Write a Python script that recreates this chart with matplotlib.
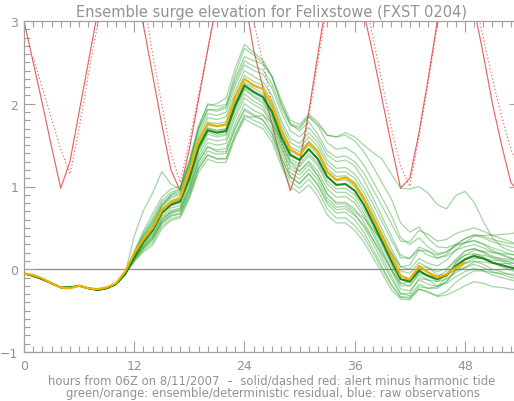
import numpy as np
import matplotlib
matplotlib.use("Agg")
import matplotlib.pyplot as plt
from matplotlib.ticker import MultipleLocator

# ---------------------------------------------------------------- data
# hours from 06Z on 8/11/2007
tide_alert = [3.00, 2.50, 2.00, 1.48, 0.98, 1.30, 1.90, 2.50, 3.10, 3.60,
              3.90, 3.80, 3.50, 2.95, 2.35, 1.75, 1.20, 0.95, 1.45, 2.05,
              2.65, 3.25, 3.60, 3.70, 3.30, 2.65, 2.20, 1.75, 1.32, 0.95,
              1.30, 1.90, 2.60, 3.30, 3.70, 3.80, 3.60, 3.10, 2.60, 2.05,
              1.50, 0.98, 1.10, 1.65, 2.30, 3.00, 3.50, 3.80, 3.60, 3.15,
              2.60, 2.00, 1.50, 1.05, 0.92]                      # hours 0..54
tide_alert_dashed = [2.56, 2.19, 1.82, 1.45, 1.15, 1.70, 2.35, 2.95, 3.50,
                     3.85, 3.90, 3.70, 3.30, 2.60, 2.00, 1.40, 1.05, 1.55,
                     2.10, 2.65, 3.20, 3.60, 3.80, 3.60, 3.00, 2.50, 2.00,
                     1.55, 1.10, 1.25, 1.85, 2.50, 3.20, 3.65, 3.85, 3.80,
                     3.30, 2.80, 2.25, 1.70, 1.25, 1.00, 1.60, 2.25, 2.95,
                     3.50, 3.85, 3.80, 3.30, 2.80, 2.30, 1.85, 1.45, 1.20]  # hours 1..54

# deterministic residual, hours 0..48
deterministic = [-0.05, -0.07, -0.11, -0.17, -0.22, -0.23, -0.20, -0.23, -0.24,
                 -0.22, -0.17, -0.03, 0.19, 0.36, 0.50, 0.71, 0.81, 0.86, 1.18,
                 1.55, 1.76, 1.73, 1.75, 2.08, 2.30, 2.22, 2.18, 1.98, 1.68,
                 1.45, 1.38, 1.53, 1.42, 1.18, 1.08, 1.11, 1.03, 0.85, 0.63,
                 0.40, 0.16, -0.08, -0.12, 0.04, -0.04, -0.10, -0.06, 0.02, 0.08]

# ensemble residuals: common spin-up (hours 0..11) then each member (hours 12..54)
spinup = [-0.05, -0.08, -0.12, -0.17, -0.22, -0.22, -0.20, -0.23, -0.25, -0.23,
          -0.18, -0.06]

ensemble_mean = [0.15, 0.33, 0.47, 0.68, 0.78, 0.82, 1.10, 1.47, 1.68, 1.65, 1.67,
                 1.98, 2.22, 2.14, 2.08, 1.90, 1.60, 1.38, 1.32, 1.45, 1.33, 1.12,
                 1.02, 1.03, 0.95, 0.78, 0.56, 0.33, 0.10, -0.12, -0.15, -0.02,
                 -0.08, -0.12, -0.07, 0.04, 0.12, 0.16, 0.13, 0.08, 0.05, 0.02, 0.00]

members = [
    [0.40, 0.71, 0.92, 1.18, 1.03, 0.97, 1.28, 1.72, 2.00, 1.97, 1.99, 2.36, 2.67, 2.59, 2.50, 2.32, 2.00, 1.76, 1.72, 1.85, 1.75, 1.62, 1.60, 1.65, 1.60, 1.50, 1.41, 1.33, 1.15, 0.98, 0.97, 1.00, 0.92, 0.78, 0.73, 0.89, 0.94, 0.81, 0.58, 0.38, 0.27, 0.22, 0.20],
    [0.22, 0.46, 0.67, 0.87, 0.97, 1.00, 1.32, 1.73, 1.98, 2.00, 2.07, 2.43, 2.72, 2.62, 2.53, 2.33, 2.00, 1.76, 1.67, 1.78, 1.63, 1.43, 1.35, 1.37, 1.30, 1.16, 0.96, 0.76, 0.55, 0.34, 0.33, 0.47, 0.42, 0.34, 0.36, 0.43, 0.47, 0.50, 0.46, 0.41, 0.37, 0.33, 0.30],
    [0.20, 0.43, 0.62, 0.83, 0.93, 0.97, 1.28, 1.69, 1.93, 1.91, 1.95, 2.27, 2.52, 2.45, 2.41, 2.24, 1.95, 1.74, 1.70, 1.84, 1.73, 1.53, 1.45, 1.47, 1.40, 1.26, 1.06, 0.86, 0.65, 0.38, 0.30, 0.38, 0.27, 0.19, 0.21, 0.28, 0.32, 0.40, 0.41, 0.41, 0.42, 0.43, 0.45],
    [0.19, 0.41, 0.59, 0.80, 0.90, 0.94, 1.25, 1.64, 1.88, 1.86, 1.90, 2.22, 2.47, 2.40, 2.36, 2.19, 1.90, 1.67, 1.60, 1.71, 1.58, 1.38, 1.30, 1.32, 1.25, 1.08, 0.86, 0.63, 0.40, 0.17, 0.13, 0.24, 0.17, 0.13, 0.18, 0.29, 0.37, 0.41, 0.38, 0.33, 0.30, 0.27, 0.25],
    [0.18, 0.40, 0.57, 0.78, 0.88, 0.92, 1.22, 1.60, 1.83, 1.81, 1.84, 2.15, 2.40, 2.33, 2.27, 2.10, 1.80, 1.58, 1.52, 1.65, 1.53, 1.32, 1.22, 1.23, 1.15, 0.99, 0.79, 0.57, 0.35, 0.14, 0.13, 0.27, 0.22, 0.14, 0.16, 0.23, 0.27, 0.30, 0.26, 0.21, 0.17, 0.13, 0.10],
    [0.18, 0.38, 0.55, 0.76, 0.86, 0.90, 1.19, 1.56, 1.78, 1.76, 1.78, 2.10, 2.34, 2.27, 2.22, 2.04, 1.75, 1.53, 1.47, 1.60, 1.48, 1.27, 1.17, 1.18, 1.10, 0.93, 0.71, 0.48, 0.25, 0.03, 0.00, 0.13, 0.07, 0.04, 0.11, 0.23, 0.32, 0.35, 0.31, 0.26, 0.22, 0.18, 0.15],
    [0.17, 0.36, 0.52, 0.73, 0.83, 0.87, 1.15, 1.53, 1.74, 1.72, 1.74, 2.06, 2.30, 2.23, 2.17, 2.00, 1.70, 1.48, 1.42, 1.55, 1.43, 1.22, 1.12, 1.13, 1.05, 0.88, 0.66, 0.43, 0.20, -0.02, -0.05, 0.08, 0.02, -0.03, 0.01, 0.10, 0.17, 0.23, 0.22, 0.20, 0.19, 0.18, 0.18],
    [0.16, 0.35, 0.50, 0.71, 0.81, 0.85, 1.13, 1.50, 1.71, 1.68, 1.70, 2.02, 2.26, 2.19, 2.13, 1.95, 1.65, 1.43, 1.37, 1.50, 1.38, 1.17, 1.07, 1.08, 1.00, 0.83, 0.61, 0.38, 0.15, -0.08, -0.12, -0.01, -0.08, -0.09, -0.02, 0.12, 0.22, 0.25, 0.21, 0.16, 0.12, 0.08, 0.05],
    [0.16, 0.34, 0.49, 0.70, 0.80, 0.84, 1.12, 1.49, 1.70, 1.67, 1.69, 2.00, 2.24, 2.16, 2.10, 1.92, 1.62, 1.40, 1.33, 1.46, 1.33, 1.12, 1.02, 1.03, 0.95, 0.78, 0.55, 0.32, 0.08, -0.12, -0.13, 0.01, -0.03, -0.09, -0.07, 0.01, 0.07, 0.13, 0.13, 0.11, 0.10, 0.10, 0.10],
    [0.15, 0.33, 0.47, 0.67, 0.77, 0.80, 1.08, 1.45, 1.66, 1.62, 1.64, 1.95, 2.19, 2.10, 2.04, 1.85, 1.55, 1.33, 1.27, 1.40, 1.28, 1.07, 0.97, 0.98, 0.90, 0.73, 0.51, 0.28, 0.05, -0.17, -0.20, -0.07, -0.13, -0.15, -0.07, 0.07, 0.17, 0.19, 0.15, 0.08, 0.03, -0.01, -0.05],
    [0.14, 0.31, 0.44, 0.64, 0.74, 0.77, 1.05, 1.42, 1.63, 1.60, 1.62, 1.93, 2.17, 2.08, 2.01, 1.83, 1.52, 1.30, 1.24, 1.37, 1.25, 1.03, 0.93, 0.93, 0.85, 0.68, 0.46, 0.23, 0.00, -0.17, -0.15, 0.03, 0.02, -0.07, -0.07, -0.01, 0.02, 0.09, 0.09, 0.07, 0.07, 0.07, 0.08],
    [0.13, 0.30, 0.42, 0.62, 0.71, 0.74, 1.01, 1.38, 1.58, 1.55, 1.57, 1.88, 2.12, 2.03, 1.97, 1.78, 1.48, 1.25, 1.18, 1.31, 1.18, 0.97, 0.87, 0.88, 0.80, 0.64, 0.42, 0.20, -0.02, -0.24, -0.26, -0.13, -0.18, -0.21, -0.15, -0.02, 0.07, 0.10, 0.06, 0.00, -0.03, -0.07, -0.10],
    [0.13, 0.28, 0.40, 0.60, 0.69, 0.72, 0.98, 1.34, 1.53, 1.50, 1.52, 1.83, 2.07, 1.99, 1.93, 1.75, 1.45, 1.22, 1.14, 1.26, 1.13, 0.91, 0.81, 0.81, 0.73, 0.57, 0.36, 0.14, -0.08, -0.29, -0.32, -0.18, -0.23, -0.23, -0.15, 0.00, 0.12, 0.18, 0.17, 0.14, 0.13, 0.12, 0.12],
    [0.12, 0.26, 0.37, 0.57, 0.67, 0.70, 0.95, 1.30, 1.48, 1.44, 1.46, 1.76, 2.00, 1.92, 1.87, 1.69, 1.40, 1.17, 1.09, 1.21, 1.08, 0.86, 0.75, 0.76, 0.67, 0.51, 0.31, 0.09, -0.12, -0.30, -0.29, -0.11, -0.13, -0.20, -0.17, -0.09, -0.03, 0.01, -0.02, -0.07, -0.10, -0.13, -0.15],
    [0.11, 0.25, 0.35, 0.55, 0.64, 0.67, 0.92, 1.25, 1.43, 1.39, 1.40, 1.71, 1.94, 1.87, 1.81, 1.64, 1.35, 1.11, 1.03, 1.15, 1.01, 0.79, 0.68, 0.69, 0.60, 0.45, 0.24, 0.03, -0.18, -0.33, -0.34, -0.24, -0.28, -0.32, -0.27, -0.16, -0.08, -0.02, -0.02, -0.04, -0.05, -0.06, -0.05],
    [0.10, 0.23, 0.32, 0.52, 0.61, 0.64, 0.88, 1.21, 1.38, 1.34, 1.34, 1.64, 1.87, 1.80, 1.75, 1.59, 1.30, 1.06, 0.98, 1.09, 0.95, 0.73, 0.62, 0.62, 0.53, 0.39, 0.20, 0.00, -0.20, -0.34, -0.35, -0.21, -0.23, -0.21, -0.10, 0.08, 0.22, 0.25, 0.20, 0.14, 0.10, 0.05, 0.02],
    [0.09, 0.21, 0.29, 0.49, 0.59, 0.62, 0.85, 1.17, 1.33, 1.29, 1.29, 1.59, 1.82, 1.75, 1.70, 1.54, 1.25, 1.00, 0.92, 1.02, 0.88, 0.66, 0.56, 0.56, 0.47, 0.33, 0.14, -0.05, -0.25, -0.36, -0.37, -0.24, -0.27, -0.33, -0.31, -0.26, -0.20, -0.15, -0.17, -0.21, -0.22, -0.24, -0.25],
    [0.12, 0.26, 0.37, 0.56, 0.65, 0.67, 0.90, 1.22, 1.38, 1.33, 1.33, 1.62, 1.84, 1.84, 1.86, 1.77, 1.55, 1.29, 1.19, 1.29, 1.13, 0.91, 0.79, 0.79, 0.70, 0.62, 0.48, 0.34, 0.20, 0.03, 0.05, 0.23, 0.22, 0.17, 0.21, 0.30, 0.37, 0.42, 0.40, 0.36, 0.33, 0.31, 0.30],
    [0.17, 0.36, 0.52, 0.76, 0.90, 0.97, 1.28, 1.69, 1.93, 1.93, 1.97, 2.31, 2.57, 2.52, 2.48, 2.33, 2.05, 1.80, 1.75, 1.87, 1.78, 1.62, 1.60, 1.62, 1.55, 1.42, 1.24, 1.04, 0.85, 0.56, 0.45, 0.51, 0.37, 0.27, 0.26, 0.30, 0.32, 0.34, 0.30, 0.23, 0.18, 0.14, 0.10],
    [0.12, 0.28, 0.39, 0.59, 0.69, 0.72, 0.97, 1.30, 1.48, 1.42, 1.42, 1.70, 1.92, 1.85, 1.80, 1.64, 1.35, 1.12, 1.04, 1.16, 1.03, 0.82, 0.72, 0.73, 0.65, 0.53, 0.36, 0.18, 0.00, -0.20, -0.20, -0.05, -0.08, -0.15, -0.12, -0.04, 0.02, 0.06, 0.02, -0.03, -0.06, -0.10, -0.12],
]

x_major = [0, 12, 24, 36, 48]
y_major = [-1, 0, 1, 2, 3]
title = "Ensemble surge elevation for Felixstowe (FXST 0204)"
caption_1 = "hours from 06Z on 8/11/2007  \u2013  solid/dashed red: alert minus harmonic tide"
caption_2 = "green/orange: ensemble/deterministic residual, blue: raw observations"

# ---------------------------------------------------------------- style
TXT = "#929292"
AXC = "#a0a0a0"
RED = "#e34848"
GREEN = "#34a434"
DKGREEN = "#0b7f0b"
ORANGE = "#f2b000"

fig = plt.figure(figsize=(5.14, 4.02), dpi=100)
ax = fig.add_axes([24 / 514, 49 / 402, 496 / 514, 331 / 402])

def hours_from(start, values):
    return np.arange(start, start + len(values))

ax.axhline(0, color="#8c8c8c", lw=0.9, zorder=1)

ax.plot(hours_from(0, tide_alert), tide_alert, color=RED, lw=0.85, alpha=0.85,
        zorder=2, solid_joinstyle="round")
ax.plot(hours_from(1, tide_alert_dashed), tide_alert_dashed, color=RED, lw=0.85,
        alpha=0.85, linestyle=(0, (1, 2)), zorder=2)

for m in members:
    vals = spinup + m
    ax.plot(hours_from(0, vals), vals, color=GREEN, lw=0.9, alpha=0.45, zorder=3,
            solid_joinstyle="round")

mean_vals = spinup + ensemble_mean
ax.plot(hours_from(0, mean_vals), mean_vals, color=DKGREEN, lw=1.5, alpha=0.9,
        zorder=4, solid_joinstyle="round")
ax.plot(hours_from(0, deterministic), deterministic, color=ORANGE, lw=1.6, zorder=5,
        solid_joinstyle="round")

ax.set_xlim(0, 54)
ax.set_ylim(-1, 3)
ax.set_xticks(x_major)
ax.set_yticks(y_major)
ax.xaxis.set_minor_locator(MultipleLocator(1))
ax.yaxis.set_minor_locator(MultipleLocator(0.1))
ax.tick_params(which="both", direction="in", top=True, right=True,
               color=AXC, labelcolor=TXT, labelsize=9, width=0.8)
ax.tick_params(which="major", length=8)
ax.tick_params(which="minor", length=4)
ax.tick_params(axis="x", pad=5)
ax.tick_params(axis="y", pad=4)
for s in ax.spines.values():
    s.set_color(AXC)
    s.set_linewidth(0.9)

fig.text(272 / 514, 1 - 13 / 402, title, ha="center", va="center",
         color=TXT, fontsize=10.5)
fig.text(272 / 514, 1 - 381 / 402, caption_1, ha="center", va="center",
         color=TXT, fontsize=8.4)
fig.text(273 / 514, 1 - 394 / 402, caption_2, ha="center", va="center",
         color=TXT, fontsize=8.4)

fig.savefig("out.png", dpi=100)
